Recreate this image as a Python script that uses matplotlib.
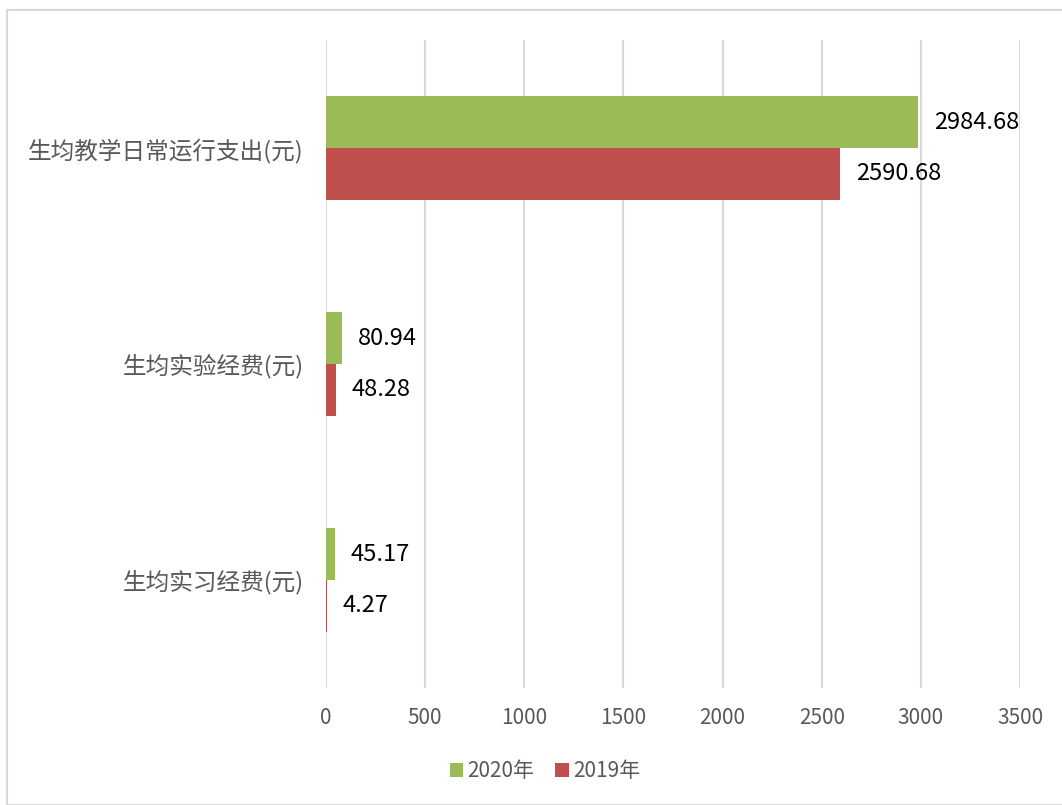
import matplotlib
matplotlib.use("Agg")
import matplotlib.pyplot as plt
import numpy as np
from matplotlib.patches import Rectangle

plt.rcParams['font.family'] = ['Noto Sans CJK SC', 'DejaVu Sans']

categories = ["生均教学日常运行支出(元)", "生均实验经费(元)", "生均实习经费(元)"]
series_names = ["2020年", "2019年"]
vals_2020 = [2984.68, 80.94, 45.17]
vals_2019 = [2590.68, 48.28, 4.27]
colors = ["#9BBB59", "#C0504D"]
xticks = [0, 500, 1000, 1500, 2000, 2500, 3000, 3500]

fig = plt.figure(figsize=(10.62, 8.05), dpi=100)
ax = fig.add_axes([0.307, 0.1453, 0.6535, 0.805])

y = np.arange(len(categories))
h = 0.24
b1 = ax.barh(y - h / 2, vals_2020, h, color=colors[0], label=series_names[0])
b2 = ax.barh(y + h / 2, vals_2019, h, color=colors[1], label=series_names[1])

# value labels to the right of each bar
for bars in (b1, b2):
    for bar in bars:
        w = bar.get_width()
        ax.annotate(f"{w:.2f}", (w, bar.get_y() + bar.get_height() / 2),
                    xytext=(16, 0), textcoords="offset pixels",
                    ha="left", va="center", fontsize=17, color="black")

ax.set_ylim(2.5, -0.5)
ax.set_xlim(0, 3500)
ax.set_xticks(xticks)
ax.set_xticklabels([str(t) for t in xticks], fontsize=15, color="#595959")
ax.set_yticks(y)
ax.set_yticklabels(categories, fontsize=17, color="#595959")
ax.tick_params(axis="x", length=0, pad=14)
ax.tick_params(axis="y", length=0, pad=16)
for s in ax.spines.values():
    s.set_visible(False)
ax.grid(axis="x", color="#D9D9D9", linewidth=1.5)
ax.set_axisbelow(True)

leg = fig.legend(handles=[b1, b2], labels=series_names, loc="center",
                 bbox_to_anchor=(545 / 1062, 1 - 771 / 805), ncol=2, frameon=False,
                 fontsize=15, handlelength=0.65, handleheight=0.65, handletextpad=0.2,
                 columnspacing=1.0)
for t in leg.get_texts():
    t.set_color("#595959")

fig.patches.append(Rectangle((7 / 1062, 0), 1 - 7 / 1062 + 0.01, 1 - 10 / 805,
                             transform=fig.transFigure, fill=False,
                             edgecolor="#D9D9D9", linewidth=1.5))

fig.savefig("out.png", dpi=100)
